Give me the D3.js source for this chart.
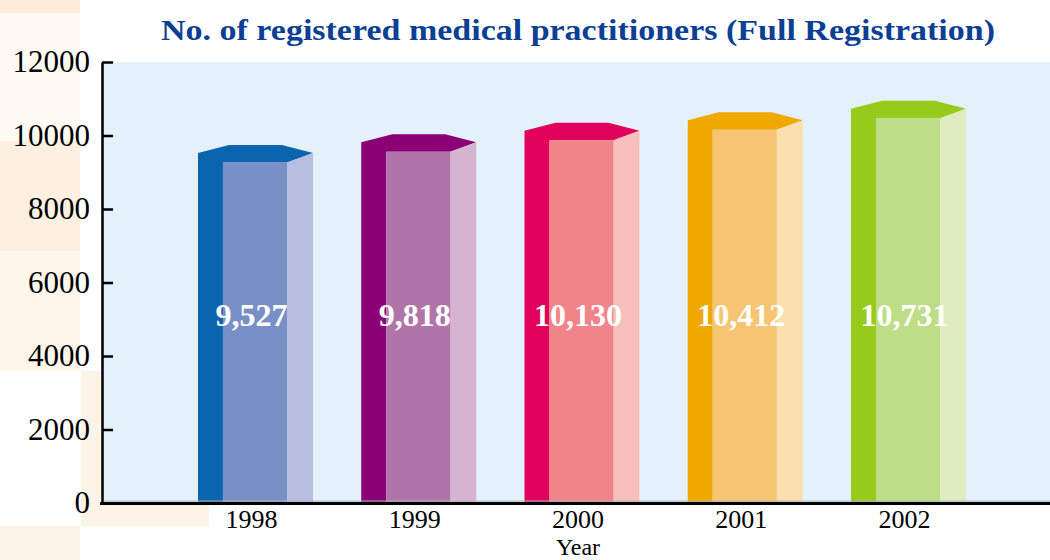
<!DOCTYPE html>
<html>
<head>
<meta charset="utf-8">
<script src="https://cdn.jsdelivr.net/npm/d3@7"></script>
<style>
  body { margin: 0; background: #fff; }
  svg { display: block; }
</style>
</head>
<body>
<script>
// data
const years = ["1998", "1999", "2000", "2001", "2002"];
const practitioners = [9527, 9818, 10130, 10412, 10731];
const yTicks = [0, 2000, 4000, 6000, 8000, 10000, 12000];

// colours per bar: [dark edge/top, front face, side face]
const barColors = [
  ["#0a64ae", "#7890c6", "#b7bee0"],
  ["#8c0075", "#b174a8", "#d5b3d1"],
  ["#e1005a", "#f08488", "#f8c0bc"],
  ["#f0a900", "#f6c571", "#fbdfae"],
  ["#96ca1b", "#bddd87", "#dfebc1"]
];

const W = 1050, H = 560;
const plot = {left: 103, top: 62, right: 1050, bottom: 503};

const svg = d3.select("body").append("svg")
    .attr("width", W)
    .attr("height", H);

// decorative background blocks on the left
const deco = [
  [0, 0, 80, 13, "#fcecd9"],
  [0, 13, 80, 128, "#fffaf4"],
  [0, 141, 80, 110, "#fdf0e1"],
  [0, 251, 80, 120, "#fef5eb"],
  [81, 371, 128, 155, "#fef3e7"],
  [0, 526, 80, 34, "#fef3e7"]
];
svg.selectAll("rect.deco").data(deco).enter().append("rect")
    .attr("class", "deco")
    .attr("x", d => d[0]).attr("y", d => d[1])
    .attr("width", d => d[2]).attr("height", d => d[3])
    .attr("fill", d => d[4]);

// plot background
svg.append("rect")
    .attr("x", plot.left).attr("y", plot.top)
    .attr("width", plot.right - plot.left)
    .attr("height", plot.bottom - plot.top)
    .attr("fill", "#e4f1fb");

// scales
const x = d3.scaleBand()
    .domain(years)
    .range([130, 1034])
    .paddingInner(0.2956)
    .paddingOuter(0.4165);

const y = d3.scaleLinear()
    .domain([0, 12000])
    .range([plot.bottom, plot.top]);

const bw = x.bandwidth();
const strip = bw * 0.217, front = bw * 0.557;
const capUp = 8, frontDrop = 9.5;

const bars = svg.selectAll("g.bar")
    .data(years.map((yr, i) => ({year: yr, value: practitioners[i], c: barColors[i]})))
    .enter().append("g")
    .attr("class", "bar");

// dark left strip + top cap
bars.append("path")
    .attr("fill", d => d.c[0])
    .attr("d", d => {
      const L = x(d.year), R = L + bw, v = y(d.value), b = y(0);
      return "M" + L + "," + b +
        "L" + L + "," + v +
        "L" + (L + bw * 0.27) + "," + (v - capUp) +
        "L" + (L + bw * 0.73) + "," + (v - capUp) +
        "L" + R + "," + v +
        "L" + (L + strip + front) + "," + (v + frontDrop) +
        "L" + (L + strip) + "," + (v + frontDrop) +
        "L" + (L + strip) + "," + b + "Z";
    });

// side face
bars.append("path")
    .attr("fill", d => d.c[2])
    .attr("d", d => {
      const L = x(d.year), R = L + bw, v = y(d.value), b = y(0);
      return "M" + (L + strip + front) + "," + (v + frontDrop) +
        "L" + R + "," + v +
        "L" + R + "," + b +
        "L" + (L + strip + front) + "," + b + "Z";
    });

// front face
bars.append("rect")
    .attr("fill", d => d.c[1])
    .attr("x", d => x(d.year) + strip)
    .attr("y", d => y(d.value) + frontDrop)
    .attr("width", front)
    .attr("height", d => y(0) - y(d.value) - frontDrop);

// value labels
bars.append("text")
    .attr("x", d => x(d.year) + bw / 2 - 4)
    .attr("y", 326)
    .attr("text-anchor", "middle")
    .attr("fill", "#fff")
    .style("font-family", "'Liberation Serif', serif")
    .style("font-weight", "bold")
    .style("font-size", "32px")
    .text(d => d3.format(",")(d.value));

// thin line at the base of the plot
svg.append("line")
    .attr("x1", plot.left).attr("x2", plot.right)
    .attr("y1", plot.bottom - 2).attr("y2", plot.bottom - 2)
    .attr("stroke", "#aab4be").attr("stroke-width", 1);

// y axis
const yAxis = svg.append("g")
    .attr("transform", "translate(" + (plot.left - 1) + ",0)")
    .call(d3.axisLeft(y).tickValues(yTicks).tickFormat(d3.format("d"))
      .tickSizeInner(-11).tickSizeOuter(0).tickPadding(12));
yAxis.select(".domain").attr("stroke", "#000").attr("stroke-width", 2.5);
yAxis.selectAll(".tick line").attr("stroke", "#000").attr("stroke-width", 2.5);
yAxis.selectAll(".tick text")
    .attr("fill", "#000")
    .style("font-family", "'Liberation Serif', serif")
    .style("font-size", "31px");

// x axis
const xAxis = svg.append("g")
    .attr("transform", "translate(-4," + plot.bottom + ")")
    .call(d3.axisBottom(x).tickSize(0).tickPadding(7));
xAxis.select(".domain").remove();
xAxis.selectAll(".tick text")
    .attr("fill", "#000")
    .attr("dy", "0.71em")
    .style("font-family", "'Liberation Serif', serif")
    .style("font-size", "26px");

svg.append("line")
    .attr("x1", plot.left - 3).attr("x2", plot.right)
    .attr("y1", plot.bottom + 0.5).attr("y2", plot.bottom + 0.5)
    .attr("stroke", "#000").attr("stroke-width", 3);

// axis title
svg.append("text")
    .attr("x", 578).attr("y", 555)
    .attr("text-anchor", "middle")
    .style("font-family", "'Liberation Serif', serif")
    .style("font-size", "24px")
    .text("Year");

// chart title
svg.append("text")
    .attr("x", 578).attr("y", 40)
    .attr("text-anchor", "middle")
    .attr("fill", "#0a3f94")
    .attr("textLength", 834)
    .attr("lengthAdjust", "spacingAndGlyphs")
    .style("font-family", "'Liberation Serif', serif")
    .style("font-weight", "bold")
    .style("font-size", "30px")
    .text("No. of registered medical practitioners (Full Registration)");
</script>
</body>
</html>
